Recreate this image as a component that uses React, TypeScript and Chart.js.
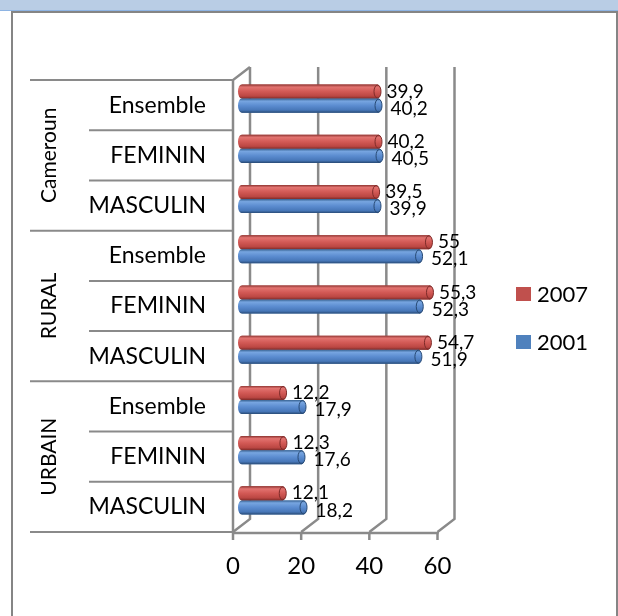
import React, { useEffect, useRef } from 'react';
import { Chart, registerables } from 'chart.js';

Chart.register(...registerables);

// ---------- data ----------
const categories = ['Ensemble', 'FEMININ', 'MASCULIN', 'Ensemble', 'FEMININ', 'MASCULIN', 'Ensemble', 'FEMININ', 'MASCULIN'];
const groups = ['Cameroun', 'RURAL', 'URBAIN'];
const groupSizes = [3, 3, 3];
const seriesNames = ['2007', '2001'];
const values2007 = [39.9, 40.2, 39.5, 55, 55.3, 54.7, 12.2, 12.3, 12.1];
const values2001 = [40.2, 40.5, 39.9, 52.1, 52.3, 51.9, 17.9, 17.6, 18.2];
const xTicks = [0, 20, 40, 60];

// ---------- style ----------
const FONT = 'Lato';
const GRID = '#8a8a8a';
const RED = '#c0504d';
const BLUE = '#4f81bd';
const redStops = ['#8e3532', '#e27370', '#d25955', '#bb4743', '#7e2b29'];
const blueStops = ['#35608f', '#77a5e0', '#5b8cd0', '#4777b8', '#284a75'];

const BACK_DX = 8.5;
const BACK_DY = -6.5;
const FRONT_DX = -8.5;
const FRONT_DY = 6.5;

const fmt = (v: number) => String(v).replace('.', ',');

const excel3d = {
  id: 'excel3d',
  beforeDatasetsDraw(chart: any) {
    const { ctx, chartArea, scales } = chart;
    const x = scales.x;
    const { top, bottom } = chartArea;
    ctx.save();
    ctx.strokeStyle = GRID;
    ctx.lineWidth = 2.5;
    ctx.lineCap = 'butt';
    xTicks.forEach((v, i) => {
      const p = x.getPixelForValue(v);
      ctx.beginPath();
      ctx.moveTo(p + BACK_DX, top + BACK_DY);
      ctx.lineTo(p + BACK_DX, bottom + BACK_DY);
      ctx.lineTo(p + FRONT_DX, bottom + FRONT_DY);
      ctx.stroke();
      if (i === 0) {
        ctx.beginPath();
        ctx.moveTo(p + BACK_DX, top + BACK_DY);
        ctx.lineTo(p + FRONT_DX, top + FRONT_DY);
        ctx.lineTo(p + FRONT_DX, bottom + FRONT_DY);
        ctx.stroke();
      }
    });
    // front axis
    const p0 = x.getPixelForValue(xTicks[0]);
    const pN = x.getPixelForValue(xTicks[xTicks.length - 1]);
    ctx.beginPath();
    ctx.moveTo(p0 + FRONT_DX - 1, bottom + FRONT_DY + 1);
    ctx.lineTo(pN + FRONT_DX + 1, bottom + FRONT_DY + 1);
    ctx.stroke();
    xTicks.forEach((v) => {
      const p = x.getPixelForValue(v) + FRONT_DX;
      ctx.beginPath();
      ctx.moveTo(p, bottom + FRONT_DY);
      ctx.lineTo(p, bottom + FRONT_DY + 8);
      ctx.stroke();
    });
    ctx.restore();
  },
  afterDatasetsDraw(chart: any) {
    const { ctx, scales } = chart;
    const x = scales.x;
    ctx.save();
    chart.data.datasets.forEach((ds: any, di: number) => {
      const meta = chart.getDatasetMeta(di);
      const stops = di === 0 ? redStops : blueStops;
      meta.data.forEach((el: any) => {
        const { x: ex, y: ey, base, height } = el.getProps(['x', 'y', 'base', 'height'], true);
        const h = height;
        const t = ey - h / 2;
        const capR = 3.5;
        const g = ctx.createLinearGradient(0, t, 0, t + h);
        g.addColorStop(0, stops[0]);
        g.addColorStop(0.18, stops[1]);
        g.addColorStop(0.5, stops[2]);
        g.addColorStop(0.82, stops[3]);
        g.addColorStop(1, stops[4]);
        ctx.fillStyle = g;
        ctx.beginPath();
        ctx.moveTo(base, t);
        ctx.lineTo(ex, t);
        ctx.ellipse(ex, ey, capR, h / 2, 0, -Math.PI / 2, Math.PI / 2);
        ctx.lineTo(base, t + h);
        ctx.ellipse(base, ey, capR, h / 2, 0, Math.PI / 2, Math.PI * 1.5);
        ctx.closePath();
        ctx.fill();
        ctx.strokeStyle = stops[4];
        ctx.lineWidth = 1;
        ctx.beginPath();
        ctx.ellipse(ex, ey, capR, h / 2 - 0.5, 0, 0, Math.PI * 2);
        ctx.stroke();
      });
    });
    // data labels
    ctx.fillStyle = '#000';
    ctx.font = `19px ${FONT}`;
    ctx.textAlign = 'left';
    ctx.textBaseline = 'middle';
    chart.data.datasets.forEach((ds: any, di: number) => {
      const meta = chart.getDatasetMeta(di);
      meta.data.forEach((el: any, i: number) => {
        const v = ds.data[i];
        const px = x.getPixelForValue(v);
        const { y: ey } = el.getProps(['y'], true);
        const lx = px + (di === 0 ? 9 : 12);
        const ly = ey + (di === 0 ? 0 : 3);
        ctx.fillText(fmt(v), lx, ly);
      });
    });
    ctx.restore();
  },
  afterDraw(chart: any) {
    const { ctx, chartArea, scales } = chart;
    const x = scales.x;
    const y = scales.y;
    const { top, bottom } = chartArea;
    const band = (bottom - top) / categories.length;
    const axisX = x.getPixelForValue(xTicks[0]) + FRONT_DX;
    ctx.save();
    ctx.strokeStyle = GRID;
    ctx.lineWidth = 2;
    // table lines
    const groupBounds = new Set<number>();
    let acc = 0;
    groupBounds.add(0);
    groupSizes.forEach((s) => { acc += s; groupBounds.add(acc); });
    for (let k = 0; k <= categories.length; k++) {
      const yy = top + FRONT_DY + k * band;
      ctx.beginPath();
      ctx.moveTo(groupBounds.has(k) ? 30 : 89, yy);
      ctx.lineTo(axisX, yy);
      ctx.stroke();
    }
    // group labels
    ctx.fillStyle = '#000';
    ctx.font = `21px ${FONT}`;
    ctx.textAlign = 'center';
    ctx.textBaseline = 'middle';
    let start = 0;
    groups.forEach((gname, gi) => {
      const end = start + groupSizes[gi] - 1;
      const cy = (y.getPixelForValue(start) + y.getPixelForValue(end)) / 2 + FRONT_DY;
      ctx.save();
      ctx.translate(49, cy);
      ctx.rotate(-Math.PI / 2);
      ctx.fillText(gname, 0, 0);
      ctx.restore();
      start += groupSizes[gi];
    });
    // legend
    const legendX = 516;
    const legendY0 = 294;
    const colors = [RED, BLUE];
    ctx.font = `22px ${FONT}`;
    ctx.textAlign = 'left';
    seriesNames.forEach((n, i) => {
      const cy = legendY0 + i * 48;
      ctx.fillStyle = colors[i];
      ctx.fillRect(legendX, cy - 7, 15, 14);
      ctx.fillStyle = '#000';
      ctx.fillText(n, legendX + 21, cy + 1);
    });
    ctx.restore();
  },
};

export default function App() {
  const ref = useRef<HTMLCanvasElement | null>(null);

  useEffect(() => {
    document.body.style.margin = '0';
    const canvas = ref.current;
    if (!canvas) return;
    const chart = new Chart(canvas, {
      type: 'bar',
      data: {
        labels: categories,
        datasets: [
          { label: seriesNames[0], data: values2007, backgroundColor: RED },
          { label: seriesNames[1], data: values2001, backgroundColor: BLUE },
        ],
      },
      options: {
        indexAxis: 'y',
        responsive: false,
        animation: false,
        devicePixelRatio: 1,
        layout: { padding: { left: 0, top: 73.5, right: 172, bottom: 0 } },
        datasets: { bar: { categoryPercentage: 0.56, barPercentage: 1 } },
        plugins: { legend: { display: false }, tooltip: { enabled: false }, title: { display: false } },
        scales: {
          x: {
            min: xTicks[0],
            max: xTicks[xTicks.length - 1],
            afterBuildTicks: (s: any) => { s.ticks = xTicks.map((v) => ({ value: v })); },
            afterFit: (s: any) => { s.height = 90.5; },
            grid: { display: false, drawTicks: false },
            border: { display: false },
            ticks: { font: { family: FONT, size: 24 }, color: '#000', padding: 26, labelOffset: FRONT_DX, maxRotation: 0 },
          },
          y: {
            afterFit: (s: any) => { s.width = 241.5; },
            grid: { display: false, drawTicks: false },
            border: { display: false },
            ticks: { font: { family: FONT, size: 23 }, color: '#000', padding: 35.5, labelOffset: FRONT_DY },
          },
        },
      },
      plugins: [excel3d],
    } as any);
    return () => chart.destroy();
  }, []);

  return (
    <div style={{ position: 'relative', width: 618, height: 616, overflow: 'hidden', background: '#fff' }}>
      <div style={{ position: 'absolute', left: 0, top: 0, width: 618, height: 10, background: '#b9cde5' }} />
      <div style={{ position: 'absolute', left: 0, top: 10, width: 618, height: 1, background: '#8eb4e3' }} />
      <div style={{ position: 'absolute', left: 11, top: 11, width: 607, height: 700, boxSizing: 'border-box', border: '2px solid #858585' }} />
      <canvas ref={ref} width={618} height={616} style={{ position: 'absolute', left: 0, top: 0, display: 'block' }} />
    </div>
  );
}
